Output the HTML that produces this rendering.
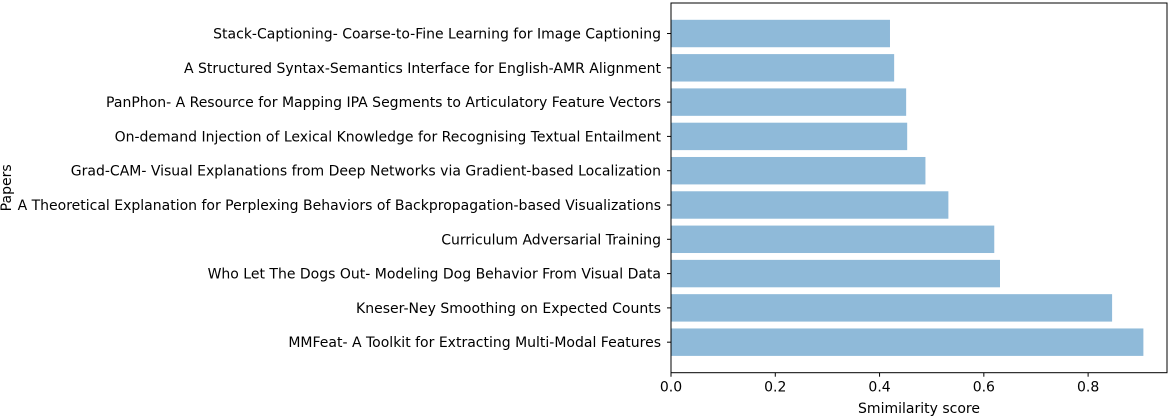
<!DOCTYPE html>
<html><head><meta charset="utf-8"><style>
html,body{margin:0;padding:0;background:#fff;}
svg{display:block;font-family:"DejaVu Sans","Liberation Sans",sans-serif;}
</style></head><body>
<svg id="chart" width="1170" height="416" xmlns="http://www.w3.org/2000/svg"></svg>
<script>
const categories = [
"MMFeat- A Toolkit for Extracting Multi-Modal Features",
"Kneser-Ney Smoothing on Expected Counts",
"Who Let The Dogs Out- Modeling Dog Behavior From Visual Data",
"Curriculum Adversarial Training",
"A Theoretical Explanation for Perplexing Behaviors of Backpropagation-based Visualizations",
"Grad-CAM- Visual Explanations from Deep Networks via Gradient-based Localization",
"On-demand Injection of Lexical Knowledge for Recognising Textual Entailment",
"PanPhon- A Resource for Mapping IPA Segments to Articulatory Feature Vectors",
"A Structured Syntax-Semantics Interface for English-AMR Alignment",
"Stack-Captioning- Coarse-to-Fine Learning for Image Captioning"];
const scores = [0.906,0.846,0.631,0.620,0.532,0.488,0.453,0.451,0.428,0.420];
const xTicks = [0,0.2,0.4,0.6,0.8];
const xTickLabels = ["0.0","0.2","0.4","0.6","0.8"];

const svg = document.getElementById('chart');
const NS = "http://www.w3.org/2000/svg";
const L=671, R=1167, T=3, B=372.7;
const xmax = Math.max(...scores)*1.05;
const n = categories.length;
const ymin=-0.4-0.05*(n-0.2), ymax=n-0.6+0.05*(n-0.2);
const x = v => L + v/xmax*(R-L);
const y = i => B - (i-ymin)/(ymax-ymin)*(B-T);
const step = (B-T)/(ymax-ymin);
function mk(tag, attrs, parent){const e=document.createElementNS(NS,tag);for(const k in attrs)e.setAttribute(k,attrs[k]);(parent||svg).appendChild(e);return e;}

categories.forEach((c,i)=>{
  const r = mk('rect',{x:x(0),y:y(i)-0.4*step,width:x(scores[i])-x(0),height:0.8*step,fill:'#8fbad9'});
  
  
  const t = mk('line',{x1:L-4,x2:L,y1:y(i),y2:y(i),stroke:'#000','stroke-width':1});
  
  
  const tx = mk('text',{x:L-10,y:y(i)+5,'text-anchor':'end','font-size':'14px',fill:'#000'});
  tx.textContent=c;
  
  
});
xTicks.forEach((v,i)=>{
  const t = mk('line',{x1:x(v),x2:x(v),y1:B,y2:B+4,stroke:'#000','stroke-width':1});
  
  
  const tx = mk('text',{x:x(v),y:B+19,'text-anchor':'middle','font-size':'14px',fill:'#000'});
  tx.textContent=xTickLabels[i];
  
  
});
const fr = mk('rect',{x:L,y:T,width:R-L,height:B-T,fill:'none',stroke:'#000','stroke-width':1});


const xl = mk('text',{x:(L+R)/2,y:413,'text-anchor':'middle','font-size':'14px',fill:'#000'});
xl.textContent='Smimilarity score';


const yl = mk('text',{x:0,y:0,'text-anchor':'middle','font-size':'14px',fill:'#000',transform:'translate(11,'+((T+B)/2)+') rotate(-90)'});
yl.textContent='Papers';


</script>
</body></html>
